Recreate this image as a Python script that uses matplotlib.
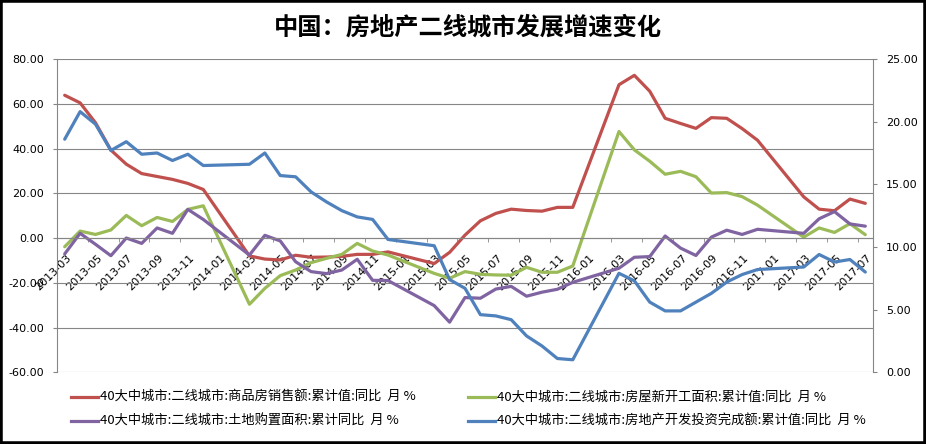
import numpy as np
import pandas as pd
import matplotlib
matplotlib.use('Agg')
import matplotlib.pyplot as plt
from matplotlib.lines import Line2D
from matplotlib.patches import Rectangle
from matplotlib.ticker import FormatStrFormatter

nan = np.nan
months = [p.strftime('%Y-%m') for p in pd.period_range('2013-03', '2017-07', freq='M')]

# 40大中城市:二线城市 (left axis: sales, new starts, land; right axis: investment)
sales = [63.8, 60.4, 51.5, 39.3, 33.0, 28.8, 27.5, 26.2, 24.4, 21.7, nan, nan,
         -8.0, -9.4, -9.8, -7.7, -8.6, -8.5, -8.2, -7.3, -7.3, -6.2, nan, nan,
         -11.4, -6.4, 1.3, 7.7, 11.0, 12.9, 12.3, 12.0, 13.7, 13.7, nan, nan,
         68.5, 72.7, 65.6, 53.5, 51.2, 49.0, 53.8, 53.5, 48.9, 43.7, nan, nan,
         18.4, 12.9, 12.2, 17.4, 15.5]
newstart = [-3.9, 3.1, 1.6, 3.6, 10.1, 5.5, 9.2, 7.4, 12.8, 14.4, nan, nan,
            -29.6, -22.5, -16.8, -14.3, -11.0, -9.1, -7.3, -2.4, -5.8, -7.6, nan, nan,
            -15.8, -18.0, -15.0, -16.2, -16.5, -16.6, -13.1, -15.3, -15.3, -12.5, nan, nan,
            47.6, 39.4, 34.3, 28.5, 29.8, 27.4, 20.1, 20.3, 18.5, 14.7, nan, nan,
            0.4, 4.5, 2.5, 6.4, 1.5]
land = [-7.1, 2.1, -2.8, -7.9, 0.0, -2.4, 4.5, 2.1, 12.8, 8.3, nan, nan,
        -7.6, 1.2, -1.3, -10.6, -15.0, -15.9, -14.3, -9.5, -18.9, -19.0, nan, nan,
        -30.2, -37.6, -26.6, -26.9, -22.8, -21.6, -26.0, -24.2, -22.9, -19.8, nan, nan,
        -13.5, -8.6, -8.3, 0.9, -4.5, -7.8, 0.4, 3.5, 1.6, 3.9, nan, nan,
        2.1, 8.6, 11.8, 6.3, 5.3]
invest = [18.6, 20.8, 19.8, 17.7, 18.4, 17.4, 17.5, 16.9, 17.4, 16.5, nan, nan,
          16.6, 17.5, 15.7, 15.6, 14.4, 13.6, 12.9, 12.4, 12.2, 10.6, nan, nan,
          10.1, 7.4, 6.7, 4.6, 4.5, 4.2, 2.9, 2.1, 1.1, 1.0, nan, nan,
          7.9, 7.3, 5.6, 4.9, 4.9, 5.6, 6.3, 7.2, 7.8, 8.2, nan, nan,
          8.4, 9.4, 8.8, 9.0, 8.0]

names = ['40大中城市:二线城市:商品房销售额:累计值:同比  月 %',
         '40大中城市:二线城市:房屋新开工面积:累计值:同比  月 %',
         '40大中城市:二线城市:土地购置面积:累计同比  月 %',
         '40大中城市:二线城市:房地产开发投资完成额:累计值:同比  月 %']
colors = ['#C0504D', '#9BBB59', '#8064A2', '#4F81BD']
title = '中国：房地产二线城市发展增速变化'

cjk = ['Noto Sans CJK SC', 'DejaVu Sans']
W, H = 926, 444
fig = plt.figure(figsize=(W / 100, H / 100), dpi=100)
fig.patch.set_facecolor('white')

left, right, top, bottom = 57, 873, 59, 372.3
ax = fig.add_axes([left / W, 1 - bottom / H, (right - left) / W, (bottom - top) / H])
ax2 = ax.twinx()

x = np.arange(len(months))


def draw(a, vals, c):
    v = np.array(vals, dtype=float)
    m = ~np.isnan(v)
    a.plot(x[m], v[m], color=c, lw=2.3, solid_joinstyle='round', solid_capstyle='round')


draw(ax, sales, colors[0])
draw(ax, newstart, colors[1])
draw(ax, land, colors[2])
draw(ax2, invest, colors[3])

grid_c = '#868686'
ax.set_xlim(-0.5, len(months) - 0.5)
ax.set_ylim(-60, 80)
ax.set_yticks(np.arange(-60, 81, 20))
ax.yaxis.set_major_formatter(FormatStrFormatter('%.2f'))
ax2.set_ylim(0, 25)
ax2.set_yticks(np.arange(0, 26, 5))
ax2.yaxis.set_major_formatter(FormatStrFormatter('%.2f'))

ax.grid(axis='y', color=grid_c, lw=0.8)
ax.set_axisbelow(True)

for s in ['top', 'right']:
    ax.spines[s].set_visible(False)
ax.spines['left'].set_color(grid_c)
ax.spines['bottom'].set_position(('data', 0))
ax.spines['bottom'].set_color(grid_c)
for s in ['top', 'left', 'bottom']:
    ax2.spines[s].set_visible(False)
ax2.spines['right'].set_color(grid_c)

ax.set_xticks(x[::2] + 0.08, labels=months[::2])
for lab in ax.get_xticklabels():
    lab.set_rotation(45)
    lab.set_ha('right')
    lab.set_va('top')
    lab.set_rotation_mode('anchor')
    lab.set_fontsize(8)
ax.tick_params(axis='x', which='major', length=0, pad=10.5)
ax.set_xticks(np.arange(-0.5, len(months), 2), minor=True)
ax.tick_params(axis='x', which='minor', length=3, color=grid_c, direction='out')

ax.tick_params(axis='y', length=3, color=grid_c, pad=6.3, labelsize=8)
ax2.tick_params(axis='y', length=3, color=grid_c, pad=6.5, labelsize=8)

fig.text(468 / W, 1 - 28 / H, title, ha='center', va='center', fontsize=17.5,
         fontweight='bold', family=cjk)

# legend (2 columns)
pos = [(71, 397), (468, 397), (71, 421), (468, 421)]
for (px, py), k in zip(pos, range(4)):
    fig.add_artist(Line2D([px / W, (px + 27) / W], [1 - py / H, 1 - py / H],
                          transform=fig.transFigure, color=colors[k], lw=2.3))
    fig.text((px + 29) / W, 1 - py / H, names[k], ha='left', va='center',
             fontsize=9.5, family=cjk)

fig.add_artist(Rectangle((0, 0), 1, 1, transform=fig.transFigure, fill=False,
                         ec='black', lw=4))

fig.savefig('out.png', dpi=100)
